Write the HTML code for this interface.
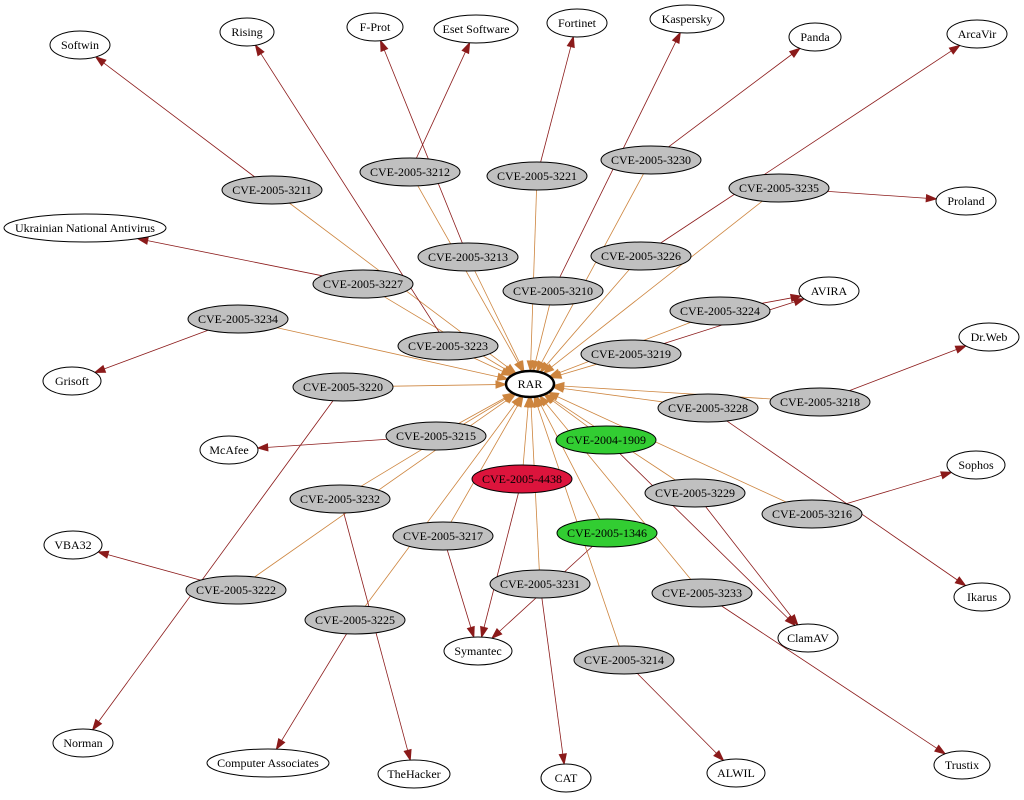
<!DOCTYPE html>
<html><head><meta charset="utf-8"><style>
html,body{margin:0;padding:0;background:#fff;}
svg{display:block;}
text{font-family:"Liberation Serif",serif;font-size:12px;text-anchor:middle;dominant-baseline:central;fill:#000;}
.v{fill:#fff;stroke:#000;stroke-width:1;}
.c{fill:#c0c0c0;stroke:#000;stroke-width:1;}
.g{fill:#32cd32;stroke:#000;stroke-width:1;}
.r{fill:#dc143c;stroke:#000;stroke-width:1;}
</style></head><body>
<svg id="s" width="1024" height="800" viewBox="0 0 1024 800" xmlns="http://www.w3.org/2000/svg">
<g id="edges"></g>
<g id="nodes">
<ellipse class="v" cx="80" cy="45" rx="30" ry="14"/><text x="80" y="45">Softwin</text>
<ellipse class="v" cx="247" cy="32" rx="27" ry="14"/><text x="247" y="32">Rising</text>
<ellipse class="v" cx="375" cy="27" rx="28" ry="14"/><text x="375" y="27">F-Prot</text>
<ellipse class="v" cx="476" cy="29" rx="42" ry="14"/><text x="476" y="29">Eset Software</text>
<ellipse class="v" cx="577" cy="23" rx="30" ry="14"/><text x="577" y="23">Fortinet</text>
<ellipse class="v" cx="687" cy="19" rx="37" ry="14"/><text x="687" y="19">Kaspersky</text>
<ellipse class="v" cx="815" cy="37" rx="26" ry="14"/><text x="815" y="37">Panda</text>
<ellipse class="v" cx="977" cy="34" rx="30" ry="14"/><text x="977" y="34">ArcaVir</text>
<ellipse class="v" cx="966" cy="201" rx="30" ry="14"/><text x="966" y="201">Proland</text>
<ellipse class="v" cx="85" cy="228" rx="81" ry="14"/><text x="85" y="228">Ukrainian National Antivirus</text>
<ellipse class="v" cx="829" cy="291" rx="30" ry="14"/><text x="829" y="291">AVIRA</text>
<ellipse class="v" cx="989" cy="337" rx="30" ry="14"/><text x="989" y="337">Dr.Web</text>
<ellipse class="v" cx="72" cy="381" rx="29" ry="14"/><text x="72" y="381">Grisoft</text>
<ellipse class="v" cx="229" cy="450" rx="29" ry="14"/><text x="229" y="450">McAfee</text>
<ellipse class="v" cx="976" cy="465" rx="29" ry="14"/><text x="976" y="465">Sophos</text>
<ellipse class="v" cx="73" cy="545" rx="29" ry="14"/><text x="73" y="545">VBA32</text>
<ellipse class="v" cx="982" cy="597" rx="28" ry="14"/><text x="982" y="597">Ikarus</text>
<ellipse class="v" cx="808" cy="638" rx="30" ry="14"/><text x="808" y="638">ClamAV</text>
<ellipse class="v" cx="478" cy="651" rx="34" ry="14"/><text x="478" y="651">Symantec</text>
<ellipse class="v" cx="83" cy="743" rx="30" ry="14"/><text x="83" y="743">Norman</text>
<ellipse class="v" cx="268" cy="763" rx="61" ry="14"/><text x="268" y="763">Computer Associates</text>
<ellipse class="v" cx="414" cy="774" rx="36" ry="14"/><text x="414" y="774">TheHacker</text>
<ellipse class="v" cx="566" cy="778" rx="25" ry="14"/><text x="566" y="778">CAT</text>
<ellipse class="v" cx="736" cy="773" rx="29" ry="14"/><text x="736" y="773">ALWIL</text>
<ellipse class="v" cx="962" cy="765" rx="28" ry="14"/><text x="962" y="765">Trustix</text>
<ellipse cx="530" cy="384" rx="24" ry="13" fill="#fff" stroke="#000" stroke-width="2.5"/><text x="530" y="384">RAR</text>
<ellipse class="c" cx="272" cy="190" rx="50" ry="14"/><text x="272" y="190">CVE-2005-3211</text>
<ellipse class="c" cx="410" cy="172" rx="50" ry="14"/><text x="410" y="172">CVE-2005-3212</text>
<ellipse class="c" cx="537" cy="176" rx="50" ry="14"/><text x="537" y="176">CVE-2005-3221</text>
<ellipse class="c" cx="651" cy="160" rx="50" ry="14"/><text x="651" y="160">CVE-2005-3230</text>
<ellipse class="c" cx="779" cy="188" rx="50" ry="14"/><text x="779" y="188">CVE-2005-3235</text>
<ellipse class="c" cx="468" cy="257" rx="50" ry="14"/><text x="468" y="257">CVE-2005-3213</text>
<ellipse class="c" cx="641" cy="256" rx="50" ry="14"/><text x="641" y="256">CVE-2005-3226</text>
<ellipse class="c" cx="363" cy="284" rx="50" ry="14"/><text x="363" y="284">CVE-2005-3227</text>
<ellipse class="c" cx="553" cy="291" rx="50" ry="14"/><text x="553" y="291">CVE-2005-3210</text>
<ellipse class="c" cx="720" cy="311" rx="50" ry="14"/><text x="720" y="311">CVE-2005-3224</text>
<ellipse class="c" cx="238" cy="319" rx="50" ry="14"/><text x="238" y="319">CVE-2005-3234</text>
<ellipse class="c" cx="448" cy="346" rx="50" ry="14"/><text x="448" y="346">CVE-2005-3223</text>
<ellipse class="c" cx="631" cy="354" rx="50" ry="14"/><text x="631" y="354">CVE-2005-3219</text>
<ellipse class="c" cx="343" cy="387" rx="50" ry="14"/><text x="343" y="387">CVE-2005-3220</text>
<ellipse class="c" cx="708" cy="408" rx="50" ry="14"/><text x="708" y="408">CVE-2005-3228</text>
<ellipse class="c" cx="820" cy="402" rx="50" ry="14"/><text x="820" y="402">CVE-2005-3218</text>
<ellipse class="c" cx="436" cy="436" rx="50" ry="14"/><text x="436" y="436">CVE-2005-3215</text>
<ellipse class="g" cx="606" cy="440" rx="50" ry="14"/><text x="606" y="440">CVE-2004-1909</text>
<ellipse class="r" cx="522" cy="479" rx="50" ry="14"/><text x="522" y="479">CVE-2005-4438</text>
<ellipse class="c" cx="340" cy="499" rx="50" ry="14"/><text x="340" y="499">CVE-2005-3232</text>
<ellipse class="c" cx="695" cy="493" rx="50" ry="14"/><text x="695" y="493">CVE-2005-3229</text>
<ellipse class="c" cx="812" cy="514" rx="50" ry="14"/><text x="812" y="514">CVE-2005-3216</text>
<ellipse class="c" cx="443" cy="536" rx="50" ry="14"/><text x="443" y="536">CVE-2005-3217</text>
<ellipse class="g" cx="607" cy="533" rx="50" ry="14"/><text x="607" y="533">CVE-2005-1346</text>
<ellipse class="c" cx="236" cy="590" rx="50" ry="14"/><text x="236" y="590">CVE-2005-3222</text>
<ellipse class="c" cx="540" cy="584" rx="50" ry="14"/><text x="540" y="584">CVE-2005-3231</text>
<ellipse class="c" cx="702" cy="593" rx="50" ry="14"/><text x="702" y="593">CVE-2005-3233</text>
<ellipse class="c" cx="355" cy="620" rx="50" ry="14"/><text x="355" y="620">CVE-2005-3225</text>
<ellipse class="c" cx="624" cy="660" rx="50" ry="14"/><text x="624" y="660">CVE-2005-3214</text>
</g>
</svg>
<script>
var N={};
document.querySelectorAll('#nodes text').forEach(function(t){
 var e=t.previousElementSibling;
 N[t.textContent]=[+e.getAttribute('cx'),+e.getAttribute('cy'),+e.getAttribute('rx'),+e.getAttribute('ry')];
});
var V=[["3211","Softwin"],["3212","Eset Software"],["3213","F-Prot"],["3221","Fortinet"],["3230","Panda"],["3210","Kaspersky"],["3226","ArcaVir"],["3235","Proland"],["3227","Ukrainian National Antivirus"],["3223","Rising"],["3234","Grisoft"],["3224","AVIRA"],["3219","AVIRA"],["3218","Dr.Web"],["3228","Ikarus"],["3220","Norman"],["3215","McAfee"],["3216","Sophos"],["3229","ClamAV"],["2004-1909","ClamAV",1],["4438","Symantec"],["3217","Symantec"],["1346","Symantec",1],["3232","TheHacker"],["3222","VBA32"],["3231","CAT"],["3233","Trustix"],["3225","Computer Associates"],["3214","ALWIL"]];
function id(s){return s.indexOf('-')>0?'CVE-'+s:(s=="1346"?'CVE-2005-1346':'CVE-2005-'+s);}
var g=document.getElementById('edges'),h='';
function edge(a,b,col,w){
 var A=N[a],B=N[b];var dx=B[0]-A[0],dy=B[1]-A[1];
 var ta=1/Math.sqrt(Math.pow(dx/A[2],2)+Math.pow(dy/A[3],2));
 var tb=1-1/Math.sqrt(Math.pow(dx/B[2],2)+Math.pow(dy/B[3],2));
 var x1=A[0]+dx*ta,y1=A[1]+dy*ta,x2=A[0]+dx*tb,y2=A[1]+dy*tb;
 var L=Math.hypot(dx,dy),ux=dx/L,uy=dy/L,al=10,aw=3.5;
 var bx=x2-ux*al,by=y2-uy*al;
 h+='<line x1="'+x1+'" y1="'+y1+'" x2="'+bx+'" y2="'+by+'" stroke="'+col+'" stroke-width="'+w+'"/>';
 h+='<polygon points="'+x2+','+y2+' '+(bx-uy*aw)+','+(by+ux*aw)+' '+(bx+uy*aw)+','+(by-ux*aw)+'" fill="'+col+'" stroke="'+col+'"/>';
}
Object.keys(N).forEach(function(k){if(k.indexOf('CVE')==0)edge(k,'RAR','#cd853f',0.8);});
V.forEach(function(e){edge(id(e[0]),e[1],'#8b1a1a',0.8);});
g.innerHTML=h;
</script>
</body></html>
